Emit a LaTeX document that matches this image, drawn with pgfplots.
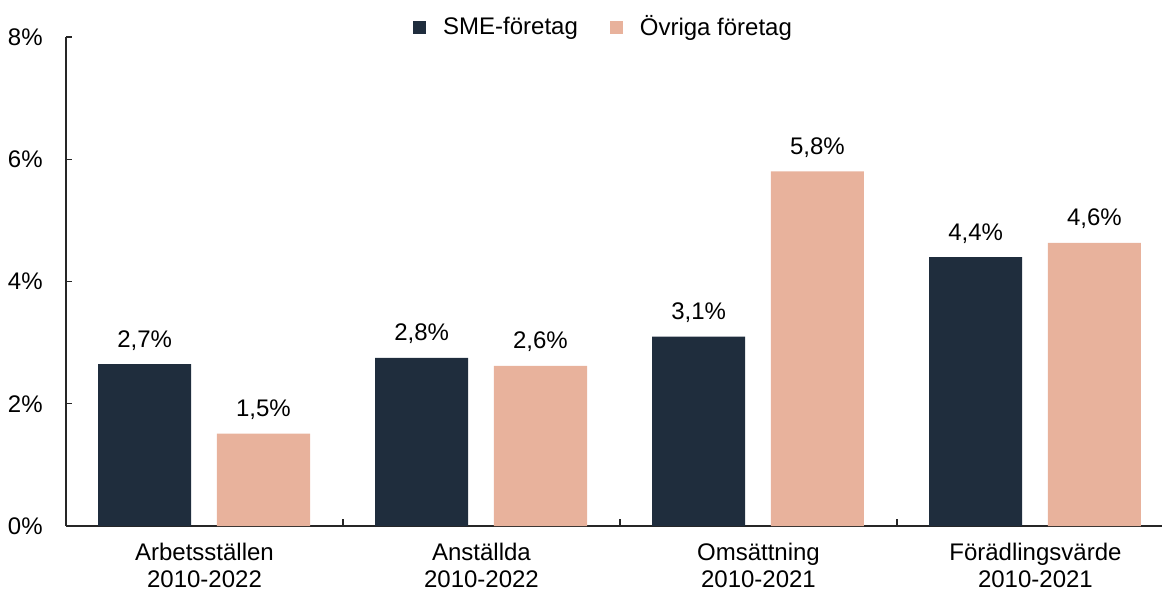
\documentclass[border=0pt]{standalone}
\usepackage{fontspec}
\setmainfont{Liberation Sans}
\usepackage{pgfplots}
\pgfplotsset{compat=1.18}
\definecolor{sme}{HTML}{1F2D3D}
\definecolor{ovr}{HTML}{E8B29C}
\definecolor{axc}{HTML}{262626}
\begin{document}
\begin{tikzpicture}[font=\fontsize{12}{13.5}\selectfont]
\useasboundingbox (0,0) rectangle (581pt,295pt);
\begin{axis}[
  at={(33pt,32pt)}, anchor=south west,
  width=548pt, height=244.5pt, scale only axis,
  xmin=-0.5, xmax=3.457, ymin=0, ymax=8,
  clip=false,
  axis lines=left,
  axis line style={-, draw=axc, line width=0.6pt},
  tick align=inside,
  ytick={0,2,4,6,8},
  yticklabels={0\%,2\%,4\%,6\%,8\%},
  yticklabel style={inner sep=0pt, xshift=-11.5pt},
  major tick length=3pt,
  tick style={draw=axc, line width=0.6pt},
  xtick={0,1,2,3},
  xticklabels={{Arbetsställen\\2010-2022},{Anställda\\2010-2022},{Omsättning\\2010-2021},{Förädlingsvärde\\2010-2021}},
  xticklabel style={align=center, inner sep=0pt, yshift=-8.5pt},
  major x tick style={draw=none},
  extra x ticks={0.5,1.5,2.5},
  extra x tick labels={},
  extra x tick style={major x tick style={draw=axc, line width=0.6pt}, major tick length=3.5pt},
  legend style={at={(0.4914,1.0204)}, anchor=center, draw=none, fill=none,
    /tikz/every odd column/.append style={column sep=6.5pt},
    /tikz/every even column/.append style={column sep=14pt}},
  legend columns=2,
  legend image code/.code={\fill[#1] (0pt,-3.25pt) rectangle (6.5pt,3.25pt);},
  nodes near coords,
  point meta=explicit symbolic,
  every node near coord/.append style={anchor=base, yshift=8.5pt, inner sep=0pt, text=black},
]
\addplot[ybar, fill=sme, draw=none, bar width=0.336, bar shift=0pt]
  coordinates {(-0.216,2.65) [2,7\%] (0.784,2.75) [2,8\%] (1.784,3.10) [3,1\%] (2.784,4.40) [4,4\%]};
\addlegendentry{SME-företag}
\addplot[ybar, fill=ovr, draw=none, bar width=0.336, bar shift=0pt]
  coordinates {(0.213,1.51) [1,5\%] (1.213,2.62) [2,6\%] (2.213,5.80) [5,8\%] (3.213,4.63) [4,6\%]};
\addlegendentry{Övriga företag}
\end{axis}
\end{tikzpicture}
\end{document}
